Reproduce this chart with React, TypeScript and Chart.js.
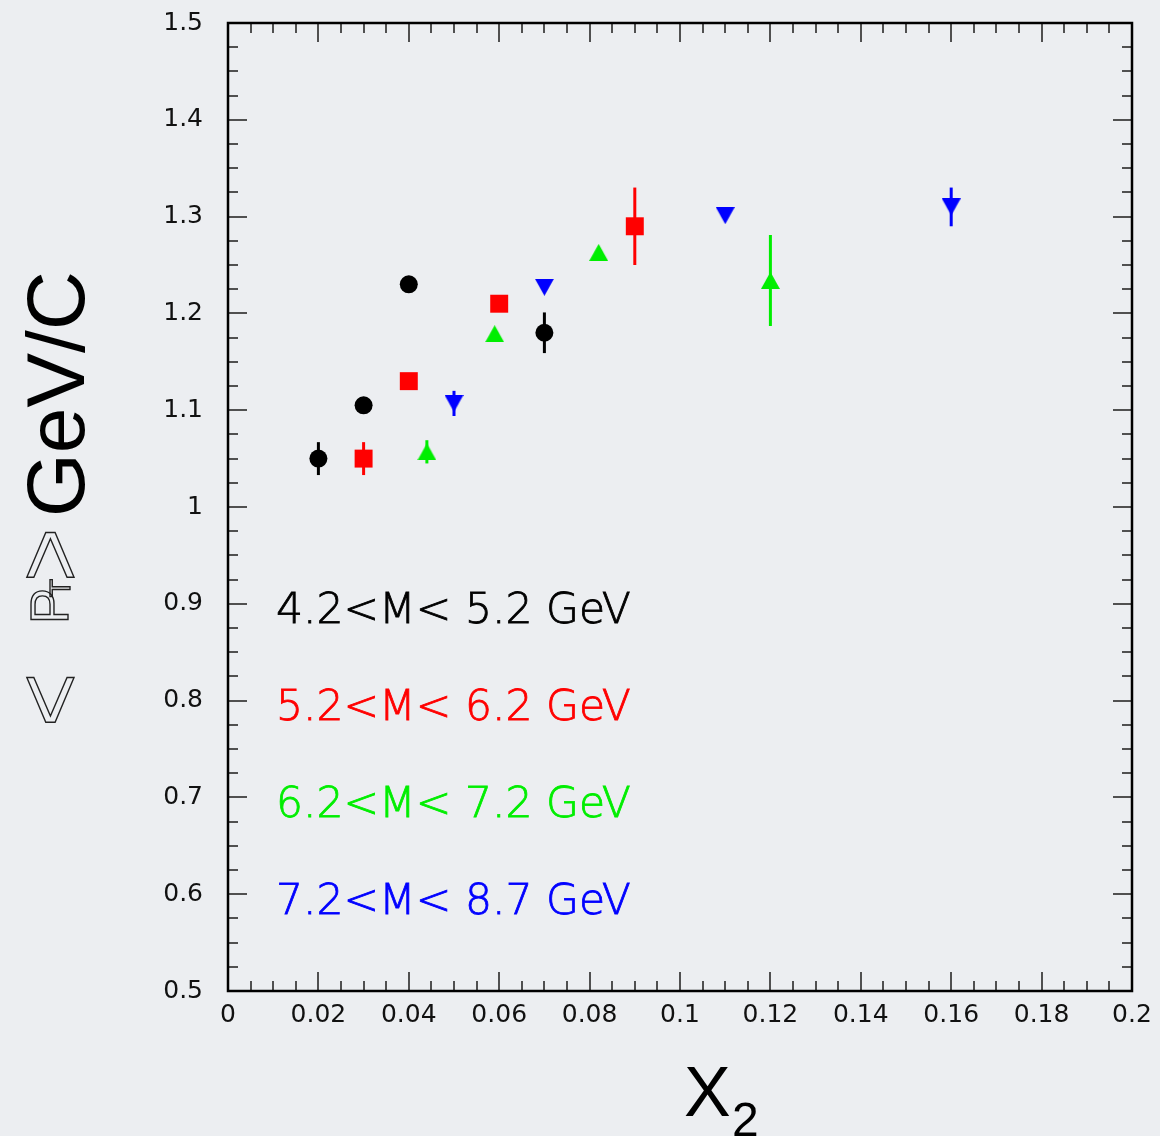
import React, { useEffect, useRef } from "react";
import { Chart, registerables } from "chart.js";

Chart.register(...registerables);

// Mass-bin labels and colours
const binLabels = ["4.2<M< 5.2 GeV", "5.2<M< 6.2 GeV", "6.2<M< 7.2 GeV", "7.2<M< 8.7 GeV"];
const binColors = ["#000000", "#ff0000", "#00ee00", "#0000ff"];
const labelYs = [0.88, 0.78, 0.68, 0.58];

// x2 values, <pT> and its statistical error for each mass bin
const x2Bin1 = [0.02, 0.03, 0.04, 0.07];
const ptBin1 = [1.05, 1.105, 1.23, 1.18];
const errBin1 = [0.017, 0.006, 0.006, 0.021];

const x2Bin2 = [0.03, 0.04, 0.06, 0.09];
const ptBin2 = [1.05, 1.13, 1.21, 1.29];
const errBin2 = [0.017, 0.006, 0.006, 0.04];

const x2Bin3 = [0.044, 0.059, 0.082, 0.12];
const ptBin3 = [1.057, 1.179, 1.263, 1.234];
const errBin3 = [0.012, 0.004, 0.004, 0.047];

const x2Bin4 = [0.05, 0.07, 0.11, 0.16];
const ptBin4 = [1.107, 1.227, 1.301, 1.31];
const errBin4 = [0.013, 0.004, 0.004, 0.02];

const allX = [x2Bin1, x2Bin2, x2Bin3, x2Bin4];
const allPt = [ptBin1, ptBin2, ptBin3, ptBin4];
const allErr = [errBin1, errBin2, errBin3, errBin4];

const X_MIN = 0;
const X_MAX = 0.2;
const Y_MIN = 0.5;
const Y_MAX = 1.5;

const BG = "rgb(236,238,241)";

function fmt(v: number, digits: number) {
  return String(Number(v.toFixed(digits)));
}

function triangleMarker(color: string, down: boolean) {
  const w = 19;
  const h = 17;
  const c = document.createElement("canvas");
  c.width = w;
  c.height = h;
  const g = c.getContext("2d")!;
  g.fillStyle = color;
  g.beginPath();
  if (down) {
    g.moveTo(0, 0);
    g.lineTo(w, 0);
    g.lineTo(w / 2, h);
  } else {
    g.moveTo(w / 2, 0);
    g.lineTo(w, h);
    g.lineTo(0, h);
  }
  g.closePath();
  g.fill();
  return c;
}

const framePlugin = {
  id: "framePlugin",
  beforeDatasetsDraw(chart: any) {
    const { ctx, scales } = chart;
    const xs = scales.x;
    const ys = scales.y;
    ctx.save();
    ctx.lineWidth = 3;
    allX.forEach((xArr, s) => {
      ctx.strokeStyle = binColors[s];
      xArr.forEach((xv, i) => {
        const px = xs.getPixelForValue(xv);
        ctx.beginPath();
        ctx.moveTo(px, ys.getPixelForValue(allPt[s][i] - allErr[s][i]));
        ctx.lineTo(px, ys.getPixelForValue(allPt[s][i] + allErr[s][i]));
        ctx.stroke();
      });
    });
    ctx.restore();
  },
  afterDraw(chart: any) {
    const { ctx, chartArea, scales } = chart;
    const xs = scales.x;
    const ys = scales.y;
    const { left, right, top, bottom } = chartArea;
    ctx.save();

    // inward ticks on all four sides
    ctx.strokeStyle = "#505050";
    ctx.lineWidth = 2;
    for (let i = 0; i <= 40; i++) {
      const px = Math.round(xs.getPixelForValue(X_MIN + i * 0.005));
      const len = i % 4 === 0 ? 19 : 10;
      ctx.beginPath();
      ctx.moveTo(px, bottom);
      ctx.lineTo(px, bottom - len);
      ctx.moveTo(px, top);
      ctx.lineTo(px, top + len);
      ctx.stroke();
    }
    for (let i = 0; i <= 40; i++) {
      const py = Math.round(ys.getPixelForValue(Y_MIN + i * 0.025));
      const len = i % 4 === 0 ? 19 : 10;
      ctx.beginPath();
      ctx.moveTo(left, py);
      ctx.lineTo(left + len, py);
      ctx.moveTo(right, py);
      ctx.lineTo(right - len, py);
      ctx.stroke();
    }

    // frame
    ctx.strokeStyle = "#000";
    ctx.lineWidth = 2.5;
    ctx.strokeRect(left, top, right - left, bottom - top);

    // mass-bin labels
    ctx.font = "200 42.5px 'DejaVu Sans'";
    ctx.textAlign = "left";
    ctx.textBaseline = "alphabetic";
    ctx.lineWidth = 0.8;
    binLabels.forEach((t, s) => {
      const tx = xs.getPixelForValue(0.0106);
      const ty = ys.getPixelForValue(labelYs[s]);
      ctx.fillStyle = binColors[s];
      ctx.strokeStyle = binColors[s];
      ctx.fillText(t, tx, ty);
      ctx.strokeText(t, tx, ty);
    });

    // x-axis title
    ctx.fillStyle = "#000";
    ctx.font = "70px 'Liberation Sans'";
    ctx.fillText("X", 684, 1116);
    ctx.font = "48px 'Liberation Sans'";
    ctx.fillText("2", 732, 1136);

    // y-axis title (rotated)
    const rot = (
      text: string,
      font: string,
      bx: number,
      cy: number,
      align: CanvasTextAlign,
      outline: boolean
    ) => {
      ctx.save();
      ctx.translate(bx, cy);
      ctx.rotate(-Math.PI / 2);
      ctx.font = font;
      ctx.textAlign = align;
      ctx.textBaseline = "alphabetic";
      if (outline) {
        ctx.strokeStyle = "#222";
        ctx.lineWidth = 1.4;
        ctx.strokeText(text, 0, 0);
      } else {
        ctx.fillStyle = "#000";
        ctx.fillText(text, 0, 0);
      }
      ctx.restore();
    };
    rot("GeV/C", "82px 'Liberation Sans'", 84, 517, "left", false);
    rot("<", "92px 'Liberation Sans'", 81, 700, "center", true);
    rot(">", "92px 'Liberation Sans'", 81, 555, "center", true);
    rot("P", "54px 'Liberation Sans'", 68, 606, "center", true);
    rot("T", "30px 'Liberation Sans'", 70, 588, "center", true);

    ctx.restore();
  },
};

export default function App() {
  const ref = useRef<HTMLCanvasElement>(null);

  useEffect(() => {
    if (!ref.current) return;
    const styles: any[] = [
      "circle",
      "rect",
      triangleMarker(binColors[2], false),
      triangleMarker(binColors[3], true),
    ];
    const radii = [9, 12.7, 9, 9];

    const datasets = allX.map((xArr, s) => ({
      label: binLabels[s],
      data: xArr.map((xv, i) => ({ x: xv, y: allPt[s][i] })),
      showLine: false,
      pointStyle: styles[s],
      pointRadius: radii[s],
      pointHoverRadius: radii[s],
      pointBackgroundColor: binColors[s],
      pointBorderColor: binColors[s],
      pointBorderWidth: 0,
    }));

    const chart = new Chart(ref.current, {
      type: "scatter",
      data: { datasets },
      options: {
        animation: false,
        responsive: false,
        maintainAspectRatio: false,
        events: [],
        layout: { padding: { left: 0, top: 23, right: 28, bottom: 0 } },
        plugins: {
          legend: { display: false },
          tooltip: { enabled: false },
        },
        scales: {
          x: {
            type: "linear",
            min: X_MIN,
            max: X_MAX,
            grid: { display: false, drawTicks: false },
            border: { display: false },
            ticks: {
              stepSize: 0.02,
              autoSkip: false,
              maxRotation: 0,
              padding: 9,
              color: "#111",
              font: { family: "'DejaVu Sans'", size: 25 },
              callback: (v: any) => fmt(Number(v), 3),
            },
            afterFit: (s: any) => {
              s.height = 145;
              s.paddingLeft = 0;
              s.paddingRight = 0;
            },
          },
          y: {
            type: "linear",
            min: Y_MIN,
            max: Y_MAX,
            grid: { display: false, drawTicks: false },
            border: { display: false },
            ticks: {
              stepSize: 0.1,
              autoSkip: false,
              padding: 25,
              color: "#111",
              font: { family: "'DejaVu Sans'", size: 25 },
              callback: (v: any) => fmt(Number(v), 2),
            },
            afterFit: (s: any) => {
              s.width = 228;
              s.paddingTop = 0;
              s.paddingBottom = 0;
            },
          },
        },
      },
      plugins: [framePlugin],
    });
    return () => chart.destroy();
  }, []);

  return (
    <div
      style={{
        position: "absolute",
        left: 0,
        top: 0,
        width: 1160,
        height: 1136,
        background: BG,
      }}
    >
      <canvas ref={ref} width={1160} height={1136} style={{ display: "block" }} />
    </div>
  );
}
